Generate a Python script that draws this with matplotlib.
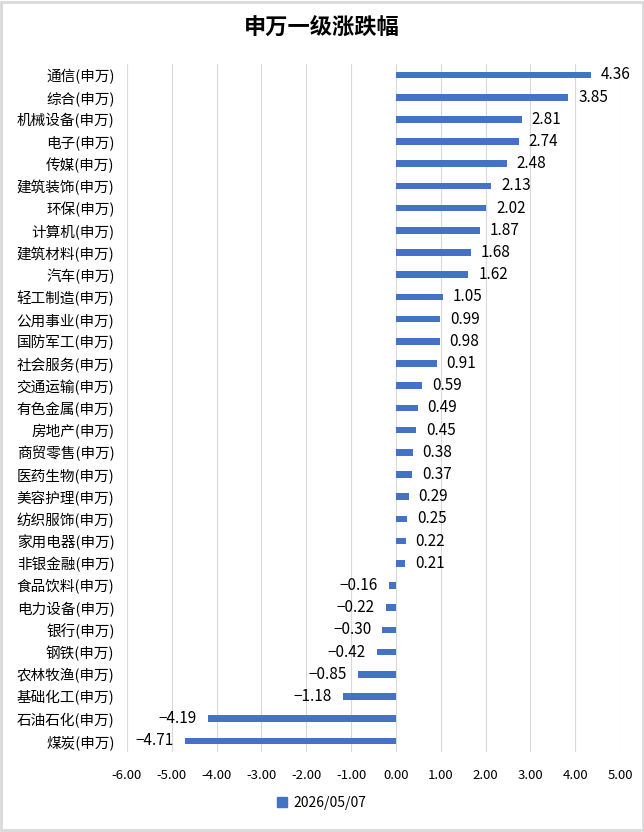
import matplotlib
matplotlib.use("Agg")
import matplotlib.pyplot as plt
from matplotlib.patches import Rectangle

plt.rcParams['font.family'] = ['Noto Sans CJK SC', 'DejaVu Sans']

categories = ["通信(申万)", "综合(申万)", "机械设备(申万)", "电子(申万)", "传媒(申万)",
              "建筑装饰(申万)", "环保(申万)", "计算机(申万)", "建筑材料(申万)", "汽车(申万)",
              "轻工制造(申万)", "公用事业(申万)", "国防军工(申万)", "社会服务(申万)", "交通运输(申万)",
              "有色金属(申万)", "房地产(申万)", "商贸零售(申万)", "医药生物(申万)", "美容护理(申万)",
              "纺织服饰(申万)", "家用电器(申万)", "非银金融(申万)", "食品饮料(申万)", "电力设备(申万)",
              "银行(申万)", "钢铁(申万)", "农林牧渔(申万)", "基础化工(申万)", "石油石化(申万)",
              "煤炭(申万)"]
values = [4.36, 3.85, 2.81, 2.74, 2.48, 2.13, 2.02, 1.87, 1.68, 1.62, 1.05, 0.99, 0.98, 0.91,
          0.59, 0.49, 0.45, 0.38, 0.37, 0.29, 0.25, 0.22, 0.21, -0.16, -0.22, -0.30, -0.42,
          -0.85, -1.18, -4.19, -4.71]
xticks = [-6, -5, -4, -3, -2, -1, 0, 1, 2, 3, 4, 5]
series_name = "2026/05/07"
title = "申万一级涨跌幅"

color = "#4472C4"
fig = plt.figure(figsize=(6.44, 8.32), dpi=100)
ax = fig.add_axes([0.1972, 0.0962, 0.7655, 0.827])

n = len(categories)
ypos = list(range(n))
ax.barh(ypos, values, height=0.3, color=color, zorder=3)
ax.set_ylim(n - 0.5, -0.5)
ax.set_xlim(-6, 5)
ax.set_xticks(xticks)
ax.set_xticklabels([f"{t:.2f}" for t in xticks], fontsize=9.5)
ax.set_yticks(ypos)
ax.set_yticklabels(categories, fontsize=10.5)
ax.tick_params(axis='both', length=0)
ax.tick_params(axis='y', pad=9)
ax.tick_params(axis='x', pad=12)
ax.grid(axis='x', color='#d9d9d9', linewidth=0.8, zorder=0)
for s in ax.spines.values():
    s.set_visible(False)

for y, v in zip(ypos, values):
    txt = f"{v:.2f}".replace("-", "\u2212")
    if v >= 0:
        ax.annotate(txt, (v, y), xytext=(7, 0), textcoords='offset points',
                    ha='left', va='center', fontsize=11)
    else:
        ax.annotate(txt, (v, y), xytext=(-8, 0), textcoords='offset points',
                    ha='right', va='center', fontsize=11)

fig.text(0.5, 0.967, title, ha='center', va='center', fontsize=16, fontweight='bold')

handle = Rectangle((0, 0), 1, 1, color=color)
fig.legend([handle], [series_name], loc='center', bbox_to_anchor=(0.50, 0.035),
           frameon=False, fontsize=10, handlelength=0.7, handleheight=0.7, handletextpad=0.5)

fig.patches.append(Rectangle((0.002, 0.002), 0.996, 0.996, transform=fig.transFigure,
                             fill=False, edgecolor='#d9d9d9', linewidth=2))

fig.savefig("out.png", dpi=100)
